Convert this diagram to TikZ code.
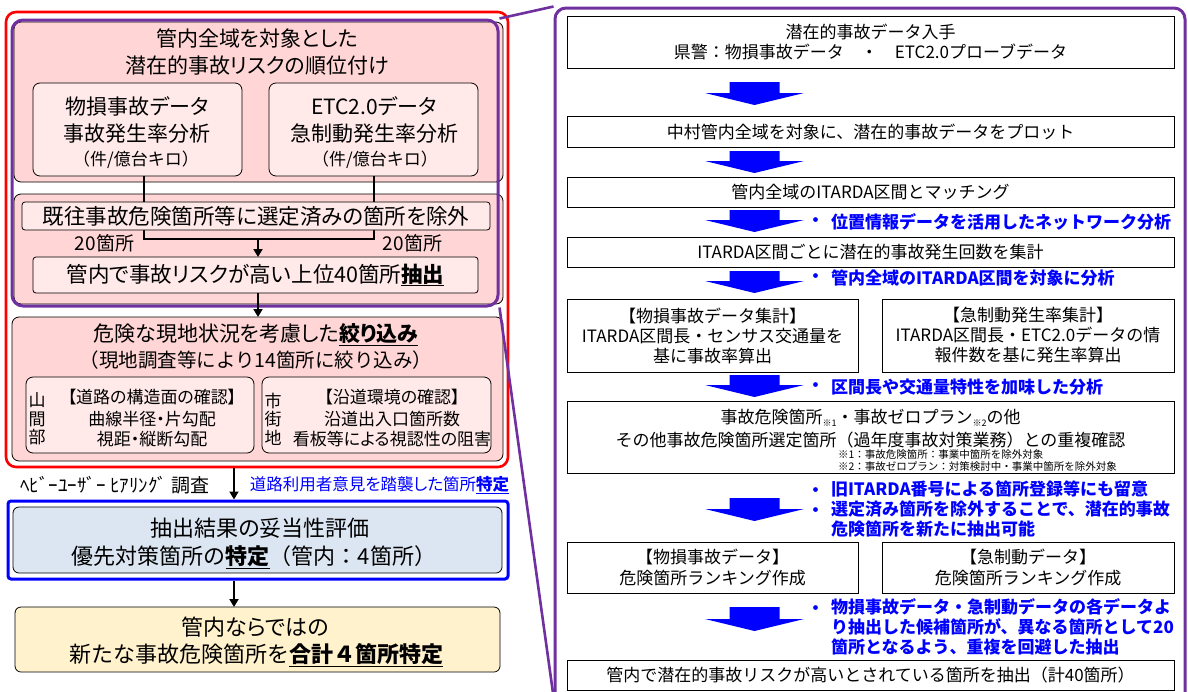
\documentclass[tikz,border=0pt]{standalone}
\usepackage{fontspec}
\setmainfont{Noto Sans CJK JP}
\newfontfamily\lf{Noto Sans CJK JP}[RawFeature=+palt]
\usetikzlibrary{arrows.meta}
\definecolor{pinkA}{RGB}{255,213,213}
\definecolor{pinkB}{RGB}{255,233,233}
\definecolor{purp}{RGB}{112,48,160}
\definecolor{bblue}{RGB}{0,0,255}
\definecolor{bfill}{RGB}{220,230,242}
\definecolor{yfill}{RGB}{255,242,204}
\newcommand{\fsz}[2]{\fontsize{#1pt}{#2pt}\selectfont}
\newcommand{\blockarr}[3]{\fill[bblue] (#1-25,#2) -- (#1+25,#2) -- (#1+25,#3-12) -- (#1+49.5,#3-12) -- (#1,#3) -- (#1-49.5,#3-12) -- (#1-25,#3-12) -- cycle;}
\begin{document}
\begin{tikzpicture}[x=1pt,y=-1pt,
 box/.style={draw=black,line width=0.8pt,inner sep=0pt,outer sep=0pt,rounded corners=7pt},
 rbox/.style={draw=black,line width=0.9pt,fill=white,inner sep=0pt,outer sep=0pt},
 txt/.style={inner sep=0pt,outer sep=0pt,align=center},
 lt/.style={txt,font={\lf\fsz{21}{28}}},
 lts/.style={txt,font={\fsz{17}{19}}},
 lsm/.style={txt,font={\lf\fsz{17}{20}}},
 rt/.style={txt,font={\fsz{17}{20}}},
 bt/.style={inner sep=0pt,outer sep=0pt,align=left,anchor=west,text=bblue,font={\bfseries\fsz{17}{20}}},
 conn/.style={line width=1.9pt},
 arr/.style={line width=1.9pt,-{Triangle[length=8pt,width=9pt]}},
 pline/.style={draw=purp,line width=2.6pt}]
\useasboundingbox (0,0) rectangle (1188,691);
\clip (0,0) rectangle (1188,691);
% ---------------- left column ----------------
\node[draw=red,line width=2.6pt,rounded corners=10pt,minimum width=502pt,minimum height=455pt,inner sep=0pt] (redf) at (257,239.5) {};
\node[box,fill=pinkA,minimum width=489pt,minimum height=160pt] (pink1) at (258.5,102) {};
\node[lt] (ttl1) at (257,38) {管内全域を対象とした};
\node[lt] (ttl2) at (257,66) {潜在的事故リスクの順位付け};
\node[box,fill=pinkB,minimum width=209pt,minimum height=93pt] (subL) at (137.5,129.5) {};
\node[box,fill=pinkB,minimum width=209pt,minimum height=93pt] (subR) at (373.5,129.5) {};
\node[lt] (sl1) at (137,106) {物損事故データ};
\node[lt] (sl2) at (137,134) {事故発生率分析};
\node[lts] (sl3) at (136,160) {（件/億台キロ）};
\node[lt] (sr1) at (374,106) {ETC2.0データ};
\node[lt] (sr2) at (374,134) {急制動発生率分析};
\node[lts] (sr3) at (375,160) {（件/億台キロ）};
\node[box,fill=pinkA,minimum width=489pt,minimum height=110pt] (pink2) at (258.5,249) {};
\coordinate (jl) at (144,239);
\coordinate (jr) at (374,239);
\coordinate (jm) at (258,239);
\draw[conn] (subL.south -| jl) -- (jl) -- (jr) -- (subR.south -| jr);
\node[box,rounded corners=3pt,fill=pinkB,minimum width=468pt,minimum height=28pt,font={\lf\fsz{21.5}{25}}] (excl) at (256,216) {既往事故危険箇所等に選定済みの箇所を除外};
\node[box,rounded corners=3pt,fill=pinkB,minimum width=445pt,minimum height=36pt,font={\lf\fsz{21.5}{25}}] (top40) at (255.5,275) {管内で事故リスクが高い上位40箇所\underline{\textbf{抽出}}};
\node[txt,font={\lf\fsz{19}{22}}] (n20L) at (104.5,243) {20箇所};
\node[txt,font={\lf\fsz{19}{22}}] (n20R) at (412.5,243) {20箇所};
\draw[arr] (jm) -- (top40.north -| jm);
\node[draw=purp,line width=3pt,rounded corners=11pt,minimum width=486pt,minimum height=286pt,inner sep=0pt] (purpL) at (255,163) {};
\node[box,fill=pinkA,minimum width=491pt,minimum height=144pt] (pink3) at (257.5,389) {};
\draw[arr] (top40.south -| jm) -- (pink3.north -| jm);
\node[lt] (p3a) at (256,335) {危険な現地状況を考慮した\underline{\textbf{絞り込み}}};
\node[txt,font={\fsz{19.5}{24}}] (p3b) at (256,360) {（現地調査等により14箇所に絞り込み）};
\node[box,fill=pinkB,minimum width=228pt,minimum height=76pt] (s3L) at (140,415) {};
\node[box,fill=pinkB,minimum width=229pt,minimum height=76pt] (s3R) at (376.5,415) {};
\node[txt,font={\lf\fsz{17}{18.5}}] (v1) at (37,419) {山\\間\\部};
\node[lsm] (s3l1) at (152,397) {【道路の構造面の確認】};
\node[lsm] (s3l2) at (152,419) {曲線半径・片勾配};
\node[lsm] (s3l3) at (152,439) {視距・縦断勾配};
\node[txt,font={\lf\fsz{17}{18.5}}] (v2) at (273,419) {市\\街\\地};
\node[lsm] (s3r1) at (392,397) {【沿道環境の確認】};
\node[lsm] (s3r2) at (392,419) {沿道出入口箇所数};
\node[lsm] (s3r3) at (392,439) {看板等による視認性の阻害};
\coordinate (hx) at (234,0);
\node[txt,font={\lf\fsz{19}{22}}] (hear) at (115,485) {ﾍﾋﾞｰﾕｰｻﾞｰ ﾋｱﾘﾝｸﾞ 調査};
\node[txt,text=bblue,font={\lf\fsz{16.5}{20}}] (road) at (379.5,485) {道路利用者意見を踏襲した箇所\underline{\textbf{特定}}};
\node[draw=bblue,line width=3pt,rounded corners=3pt,minimum width=500pt,minimum height=78pt,inner sep=0pt] (blueO) at (258,540) {};
\node[box,rounded corners=6pt,fill=bfill,minimum width=489pt,minimum height=66pt] (blueI) at (257.5,540) {};
\node[txt,font={\lf\fsz{22}{26}}] (b1) at (260,528) {抽出結果の妥当性評価};
\node[txt,font={\fsz{22}{26}}] (b2) at (254,557) {優先対策箇所の\underline{\textbf{特定}}（管内：4箇所）};
\draw[arr] (redf.south -| hx) -- (blueO.north -| hx);
\node[box,rounded corners=6pt,fill=yfill,minimum width=485pt,minimum height=65pt] (yel) at (257.5,639.5) {};
\draw[arr] (blueO.south -| hx) -- (yel.north -| hx);
\node[txt,font={\lf\fsz{22}{26}}] (y1) at (255,627) {管内ならではの};
\node[txt,font={\fsz{22}{26}}] (y2) at (256,655) {新たな事故危険箇所を\underline{\textbf{合計４箇所特定}}};
% ---------------- right panel ----------------
\node[draw=purp,line width=3pt,rounded corners=11pt,minimum width=630pt,minimum height=732pt,inner sep=0pt] (rp) at (870,374) {};
\coordinate (pb) at (553,693);
\draw[pline] (purpL.north east) -- (rp.north west);
\draw[pline] (purpL.south east) -- (pb);
\node[rbox,minimum width=607pt,minimum height=52pt,font={\fsz{17}{20}},align=center] (r1) at (870.5,42) {潜在的事故データ入手\\県警：物損事故データ　・　ETC2.0プローブデータ};
\node[rbox,minimum width=607pt,minimum height=31pt,font={\fsz{17}{20}}] (r2) at (870.5,131.5) {中村管内全域を対象に、潜在的事故データをプロット};
\node[rbox,minimum width=607pt,minimum height=30pt,font={\fsz{17}{20}}] (r3) at (870.5,192) {管内全域のITARDA区間とマッチング};
\node[rbox,minimum width=607pt,minimum height=30pt,font={\fsz{17}{20}}] (r4) at (870.5,252) {ITARDA区間ごとに潜在的事故発生回数を集計};
\node[rbox,minimum width=291pt,minimum height=73pt,font={\fsz{17}{20}},align=center] (r5a) at (712.5,335.5) {【物損事故データ集計】\\ITARDA区間長・センサス交通量を\\基に事故率算出};
\node[rbox,minimum width=292pt,minimum height=73pt,font={\fsz{17}{20}},align=center] (r5b) at (1028,335.5) {【急制動発生率集計】\\ITARDA区間長・ETC2.0データの情\\報件数を基に発生率算出};
\node[rbox,minimum width=607pt,minimum height=72pt] (r6) at (870.5,437) {};
\node[txt,font={\fsz{17}{23}}] (r6t) at (870.5,428.5) {事故危険箇所\raisebox{-3pt}{\fsz{9}{9}※1}・事故ゼロプラン\raisebox{-3pt}{\fsz{9}{9}※2}の他\\その他事故危険箇所選定箇所（過年度事故対策業務）との重複確認};
\node[txt,anchor=west,font={\fsz{10.5}{12}}] (n1) at (838,455) {※1：事故危険箇所：事業中箇所を除外対象};
\node[txt,anchor=west,font={\fsz{10.5}{12}}] (n2) at (838,467) {※2：事故ゼロプラン：対策検討中・事業中箇所を除外対象};
\node[rbox,minimum width=291pt,minimum height=51pt,font={\fsz{17}{21}},align=center] (r7a) at (712.5,567.5) {【物損事故データ】\\危険箇所ランキング作成};
\node[rbox,minimum width=292pt,minimum height=51pt,font={\fsz{17}{21}},align=center] (r7b) at (1028,567.5) {【急制動データ】\\危険箇所ランキング作成};
\node[rbox,minimum width=607pt,minimum height=30pt,font={\fsz{17}{20}}] (r8) at (870.5,675) {管内で潜在的事故リスクが高いとされている箇所を抽出（計40箇所）};
% block arrows
\blockarr{754.5}{82}{105}
\blockarr{754.5}{151}{173}
\blockarr{754.5}{210}{232}
\blockarr{754.5}{271}{293}
\blockarr{754.5}{375}{397}
\blockarr{754.5}{498}{521}
\blockarr{754.5}{607}{631}
% blue notes
\node[bt] (k3) at (807,222) {・};
\node[bt] (t3) at (831,222) {位置情報データを活用したネットワーク分析};
\node[bt] (k4) at (807,278) {・};
\node[bt] (t4) at (831,278) {管内全域のITARDA区間を対象に分析};
\node[bt] (k5) at (807,387) {・};
\node[bt] (t5) at (831,387) {区間長や交通量特性を加味した分析};
\node[bt] (k6a) at (807,492) {・};
\node[bt] (k6b) at (807,512) {・};
\node[bt,anchor=north west] (t6) at (831,481) {旧ITARDA番号による箇所登録等にも留意\\選定済み箇所を除外することで、潜在的事故\\危険箇所を新たに抽出可能};
\node[bt] (k7) at (807,610) {・};
\node[bt,anchor=north west] (t7) at (831,599) {物損事故データ・急制動データの各データよ\\り抽出した候補箇所が、異なる箇所として20\\箇所となるよう、重複を回避した抽出};
\end{tikzpicture}
\end{document}
